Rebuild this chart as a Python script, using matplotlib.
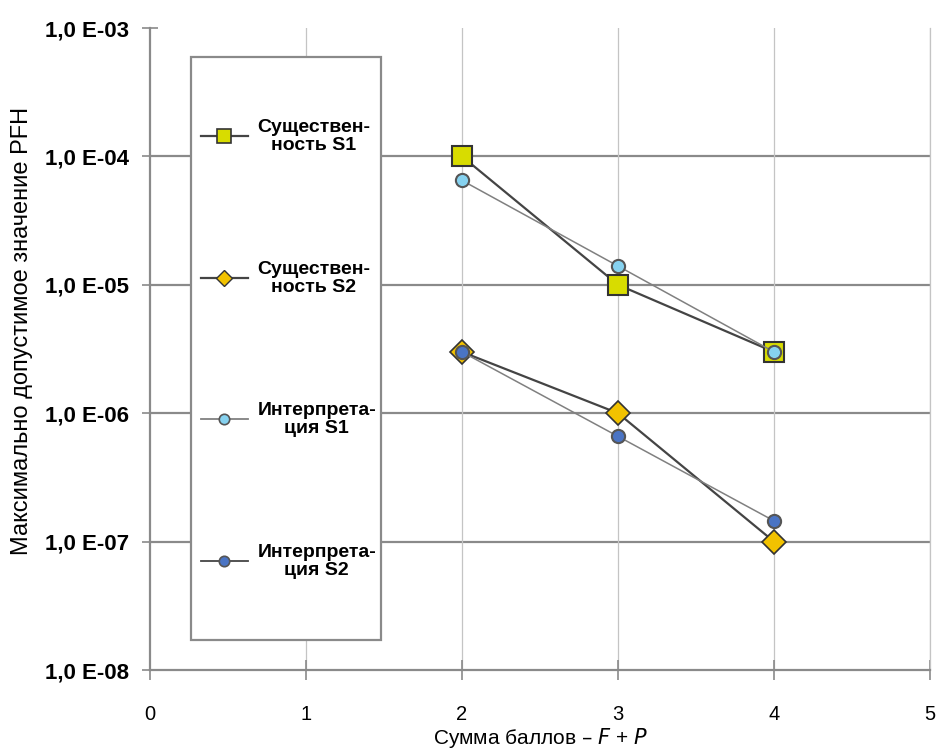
import matplotlib
matplotlib.use("Agg")
import matplotlib.pyplot as plt
from matplotlib.lines import Line2D
from matplotlib.patches import Rectangle
from matplotlib.ticker import FixedLocator, FuncFormatter
import numpy as np

plt.rcParams['font.family'] = ['Liberation Sans', 'DejaVu Sans']

# данные
x_vals = [2, 3, 4]
sush_s1 = [1e-4, 1e-5, 3e-6]
sush_s2 = [3e-6, 1e-6, 1e-7]
interp_s1 = [6.5e-5, 1.4e-5, 3e-6]
interp_s2 = [3e-6, 6.6e-7, 1.45e-7]
labels = ["Существен-\nность S1", "Существен-\nность S2",
          "Интерпрета-\nция S1", "Интерпрета-\nция S2"]
x_ticks = [0, 1, 2, 3, 4, 5]
y_ticks = [1e-8, 1e-7, 1e-6, 1e-5, 1e-4, 1e-3]

W, H = 938, 753
fig = plt.figure(figsize=(W / 100, H / 100), dpi=100)
ax = fig.add_axes([150 / W, 83 / H, 780 / W, 642 / H])

ax.set_yscale('log')
ax.set_xlim(0, 5)
ax.set_ylim(1e-8, 1e-3)

grid_c = '#8a8a8a'
# сетка
for y in y_ticks[1:-1]:
    ax.axhline(y, color=grid_c, lw=1.6, zorder=1)
for x in x_ticks[1:]:
    ax.axvline(x, color='#c4c4c4', lw=0.9, zorder=1)

edge = '#333333'
ax.plot(x_vals, sush_s1, color='#444444', lw=1.6, marker='s', ms=15,
        mfc='#d8dc00', mec=edge, mew=1.5, zorder=4)
ax.plot(x_vals, sush_s2, color='#444444', lw=1.6, marker='D', ms=12,
        mfc='#f2c200', mec=edge, mew=1.2, zorder=4)
ax.plot(x_vals, interp_s1, color='#808080', lw=1.1, marker='o', ms=9.5,
        mfc='#86d2f0', mec='#555555', mew=1.5, zorder=5)
ax.plot(x_vals, interp_s2, color='#808080', lw=1.1, marker='o', ms=9.5,
        mfc='#4a74c4', mec='#555555', mew=1.5, zorder=5)

ax.spines['top'].set_visible(False)
ax.spines['right'].set_color('#c4c4c4')
ax.spines['right'].set_linewidth(0.9)
for side in ['left', 'bottom']:
    ax.spines[side].set_color(grid_c)
    ax.spines[side].set_linewidth(1.6)

ax.xaxis.set_major_locator(FixedLocator(x_ticks))
ax.yaxis.set_major_locator(FixedLocator(y_ticks))
ax.yaxis.set_minor_locator(FixedLocator([]))
ax.yaxis.set_major_formatter(FuncFormatter(
    lambda v, p: "1,0 E-%02d" % int(round(-np.log10(v)))))
ax.tick_params(axis='y', direction='inout', length=12, width=1.2,
               color=grid_c, labelsize=16, pad=9)
ax.tick_params(axis='x', direction='inout', length=14, width=1.2,
               color=grid_c, labelsize=14.5, pad=18)
for t in ax.get_yticklabels():
    t.set_fontweight('bold')

ax.set_xlabel("Сумма баллов – $\\mathit{F}$ + $\\mathit{P}$",
              fontsize=15, labelpad=2)
ax.set_ylabel("Максимально допустимое значение PFH", fontsize=17)
ax.yaxis.set_label_coords((33 - 150) / 780, (670 - 331) / 642)

# рамка легенды
def ay(py):
    return (670 - py) / 642

box = Rectangle(((191 - 150) / 780, ay(640)), 190 / 780, ay(57) - ay(640),
                transform=ax.transAxes, facecolor='white', edgecolor=grid_c,
                lw=1.6, zorder=2)
ax.add_patch(box)

handles = [
    Line2D([], [], color='#444444', lw=1.6, marker='s', ms=10,
           mfc='#d8dc00', mec=edge, mew=1.2),
    Line2D([], [], color='#444444', lw=1.6, marker='D', ms=8,
           mfc='#f2c200', mec=edge, mew=1.0),
    Line2D([], [], color='#808080', lw=1.3, marker='o', ms=7.5,
           mfc='#86d2f0', mec='#555555', mew=1.2),
    Line2D([], [], color='#444444', lw=1.3, marker='o', ms=7.5,
           mfc='#4a74c4', mec='#555555', mew=1.2),
]
leg = ax.legend(handles, labels, loc='center left',
                bbox_to_anchor=((201 - 150) / 780, ay(349)),
                frameon=False, prop={'weight': 'bold', 'size': 14},
                handlelength=2.4, handletextpad=0.5, labelspacing=5.5,
                borderpad=0, borderaxespad=0)
for t in leg.get_texts():
    t.set_multialignment('center')
    t.set_linespacing(1.05)
leg.set_zorder(3)

fig.savefig("out.png", dpi=100)
